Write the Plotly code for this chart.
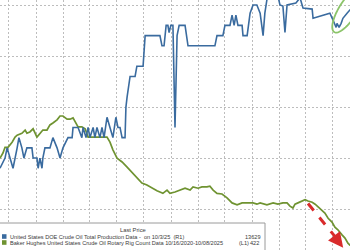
import numpy as np
import plotly.graph_objects as go

# ---- data: US DOE crude oil production (kb/d, right axis) ----
prod_dates = [
    "2022-06-01", "2022-06-18", "2022-06-25", "2022-07-05", "2022-07-15", "2022-07-29",
    "2022-08-04", "2022-08-14", "2022-08-21", "2022-08-31", "2022-09-17", "2022-09-21",
    "2022-10-04", "2022-10-08", "2022-10-14", "2022-10-21", "2022-10-24", "2022-10-31",
    "2022-11-17", "2022-11-27", "2022-12-11", "2022-12-21", "2022-12-31", "2023-01-17",
    "2023-01-31", "2023-02-03", "2023-02-20", "2023-03-05", "2023-03-09", "2023-03-19",
    "2023-03-26", "2023-04-01", "2023-04-12", "2023-04-18", "2023-04-25", "2023-05-05",
    "2023-05-12", "2023-05-19", "2023-05-29", "2023-06-08", "2023-06-18", "2023-06-28",
    "2023-07-05", "2023-07-12", "2023-07-19", "2023-07-29", "2023-08-01", "2023-08-05",
    "2023-08-15", "2023-08-22", "2023-09-01", "2023-09-07", "2023-09-28", "2023-10-05",
    "2023-11-24", "2023-12-01", "2023-12-08", "2023-12-15", "2023-12-21", "2023-12-25",
    "2023-12-31", "2024-01-07", "2024-01-14", "2024-01-21", "2024-01-28", "2024-02-17",
    "2024-02-27", "2024-05-28", "2024-06-04", "2024-06-24", "2024-07-01", "2024-07-18",
    "2024-07-25", "2024-08-01", "2024-08-07", "2024-08-14", "2024-08-28", "2024-08-31",
    "2024-09-14", "2024-09-24", "2024-10-04", "2024-10-17", "2024-10-28", "2024-11-07",
    "2024-11-13", "2024-11-24", "2024-12-24", "2025-01-03", "2025-01-13", "2025-01-20",
    "2025-01-27", "2025-02-26", "2025-03-12", "2025-03-22", "2025-04-22", "2025-04-25",
    "2025-05-25", "2025-06-21", "2025-07-02", "2025-07-12", "2025-07-15", "2025-07-22",
    "2025-07-29", "2025-08-04", "2025-08-18", "2025-08-28", "2025-09-12", "2025-10-03",
]
prod_values = [
    11900, 12000, 12100, 12000, 11900, 12100,
    12200, 12100, 12000, 12100, 12100, 12000,
    12000, 11900, 12000, 11900, 12000, 12100,
    12100, 12200, 12100, 12000, 12100, 12200,
    12200, 12300, 12300, 12200, 12300, 12200,
    12300, 12200, 12300, 12200, 12300, 12200,
    12300, 12200, 12400, 12300, 12200, 12400,
    12300, 12300, 12200, 12200, 12500, 12600,
    12800, 12800, 12800, 12900, 12900, 13200,
    13200, 13100, 13100, 13300, 13300, 13230,
    13300, 13300, 12300, 13200, 13300, 13300,
    13100, 13100, 13200, 13200, 13300, 13300,
    13400, 13300, 13400, 13300, 13300, 13200,
    13200, 13420, 13500, 13500, 13420, 13200,
    13420, 13630, 13630, 13500, 13490, 13230,
    13500, 13520, 13570, 13470, 13460, 13370,
    13400, 13420, 13350, 13280, 13320, 13280,
    13320, 13370, 13420, 13450, 13500, 13629,
]

# ---- data: Baker Hughes US crude oil rotary rig count (left axis) ----
rig_dates = [
    "2022-06-01", "2022-06-11", "2022-06-18", "2022-06-28", "2022-07-12", "2022-07-22",
    "2022-07-29", "2022-08-14", "2022-08-25", "2022-08-31", "2022-09-10", "2022-09-21",
    "2022-10-04", "2022-10-14", "2022-10-24", "2022-11-07", "2022-11-17", "2022-11-27",
    "2022-12-11", "2022-12-21", "2022-12-31", "2023-01-14", "2023-01-24", "2023-02-03",
    "2023-02-13", "2023-02-20", "2023-03-05", "2023-03-16", "2023-03-26", "2023-04-08",
    "2023-04-25", "2023-05-12", "2023-05-29", "2023-06-08", "2023-06-18", "2023-07-02",
    "2023-07-19", "2023-08-05", "2023-08-22", "2023-09-01", "2023-09-11", "2023-09-24",
    "2023-10-11", "2023-10-21", "2023-11-01", "2023-11-14", "2023-11-24", "2023-12-04",
    "2023-12-18", "2023-12-28", "2024-01-14", "2024-01-31", "2024-02-17", "2024-03-05",
    "2024-03-15", "2024-04-01", "2024-04-14", "2024-05-01", "2024-05-11", "2024-05-22",
    "2024-06-04", "2024-06-21", "2024-07-08", "2024-07-25", "2024-08-11", "2024-08-28",
    "2024-09-14", "2024-10-04", "2024-10-17", "2024-10-28", "2024-11-20", "2024-12-11",
    "2024-12-27", "2025-01-13", "2025-01-27", "2025-02-06", "2025-02-16", "2025-02-23",
    "2025-03-05", "2025-03-19", "2025-03-29", "2025-04-08", "2025-04-22", "2025-05-02",
    "2025-05-12", "2025-05-25", "2025-06-04", "2025-06-15", "2025-06-28", "2025-07-08",
    "2025-07-18", "2025-08-01", "2025-08-11", "2025-08-21", "2025-08-28", "2025-10-08",
]
rig_values = [
    561, 569, 578, 578, 586, 594,
    597, 600, 605, 600, 602, 607,
    594, 600, 605, 605, 613, 616,
    621, 627, 627, 622, 622, 624,
    616, 610, 610, 607, 594, 594,
    594, 593, 594, 586, 574, 561,
    555, 547, 539, 533, 528, 522,
    519, 516, 513, 510, 508, 506,
    511, 506, 508, 511, 514, 511,
    516, 514, 516, 516, 517, 511,
    506, 505, 499, 491, 488, 491,
    491, 491, 489, 491, 488, 491,
    489, 491, 491, 486, 483, 489,
    491, 494, 496, 494, 492, 489,
    485, 480, 475, 467, 461, 453,
    449, 441, 436, 428, 425, 422,
]

BLUE = "#3a6b9f"
GREEN = "#6f9331"
GRID = "#bdbdbd"

fig = go.Figure()
fig.add_trace(go.Scatter(x=rig_dates, y=rig_values, mode="lines",
                         line=dict(color=GREEN, width=1.7), yaxis="y"))
fig.add_trace(go.Scatter(x=prod_dates, y=prod_values, mode="lines",
                         line=dict(color=BLUE, width=1.6), yaxis="y2"))

W, H = 350, 250

def px(x, y):
    return x / W, 1 - y / H

# green ellipse highlighting recent production (paper coords)
t = np.linspace(0, 2 * np.pi, 60)
ang = np.deg2rad(58)
ux, uy = np.cos(ang), -np.sin(ang)
vx, vy = np.sin(ang), np.cos(ang)
cx, cy, a, b = 348, 10, 26, 9
ex = cx + a * np.cos(t) * ux + b * np.sin(t) * vx
ey = cy + a * np.cos(t) * uy + b * np.sin(t) * vy
path = "M " + " L ".join(f"{x / W:.4f},{1 - y / H:.4f}" for x, y in zip(ex, ey)) + " Z"
shapes = [dict(type="path", xref="paper", yref="paper", path=path,
               line=dict(color="#8cc46a", width=1.8), fillcolor="rgba(0,0,0,0)")]

# red dashed arrow (data coords on rig axis)
shapes.append(dict(type="line", xref="x", yref="y", x0="2025-04-08", y0=490,
                   x1="2025-07-30", y1=426, line=dict(color="#d92b2b", width=3, dash="dash")))

# legend box
lx0, ly0 = px(-2, 252)
lx1, ly1 = px(265, 223)
shapes.append(dict(type="rect", xref="paper", yref="paper", x0=lx0, y0=ly0, x1=lx1, y1=ly1,
                   fillcolor="white", line=dict(color="#9a9a9a", width=1)))
for col, yc in [(BLUE, 236.5), (GREEN, 242.5)]:
    x0, y0 = px(2, yc - 2.3)
    x1, y1 = px(6.5, yc + 2.3)
    shapes.append(dict(type="rect", xref="paper", yref="paper", x0=x0, y0=y0, x1=x1, y1=y1,
                       fillcolor=col, line=dict(width=0)))

annotations = [
    dict(x="2025-08-05", y=421, xref="x", yref="y", ax=-7, ay=-9, showarrow=True,
         arrowhead=2, arrowsize=1, arrowwidth=3, arrowcolor="#d92b2b", text=""),
]
FONT = "Liberation Sans, Arial, sans-serif"
TC = "#3a3a3a"

def txt(s, x, y, anchor="left", size=5.6):
    xp, yp = px(x, y)
    annotations.append(dict(text=s, x=xp, y=yp, xref="paper", yref="paper", showarrow=False,
                            xanchor=anchor, yanchor="middle",
                            font=dict(family=FONT, size=size, color=TC)))

txt("Last Price", 133, 230, "center", 5.8)
txt("United States DOE Crude Oil Total Production Data -  on 10/3/25  (R1)", 7.5, 236.5)
txt("13629", 263, 236.5, "right")
txt("Baker Hughes United States Crude Oil Rotary Rig Count Data 10/16/2020-10/08/2025", 7.5, 242.5)
txt("(L1)", 237, 242.5)
txt("422", 261, 242.5, "right")

fig.update_layout(
    width=W, height=H, margin=dict(l=0, r=0, t=0, b=0),
    plot_bgcolor="white", paper_bgcolor="white", showlegend=False,
    xaxis=dict(range=["2022-06-01", "2025-08-28"], type="date", dtick="M3", tick0="2022-01-01",
               showgrid=True, gridcolor=GRID, griddash="2px,2px", gridwidth=1,
               showticklabels=False, zeroline=False, showline=False, ticks=""),
    yaxis=dict(range=[417.3, 808.5], showgrid=False, showticklabels=False, zeroline=False,
               showline=False, ticks=""),
    yaxis2=dict(range=[11099, 13549], overlaying="y", side="right", dtick=500, tick0=0,
                showgrid=True, gridcolor=GRID, griddash="2px,2px", gridwidth=1,
                showticklabels=False, zeroline=False, showline=False, ticks=""),
    shapes=shapes, annotations=annotations,
)
fig.write_html("out.html")
